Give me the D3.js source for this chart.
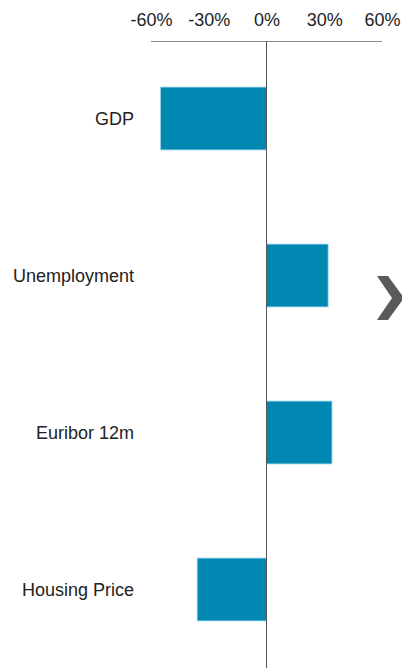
<!DOCTYPE html>
<html><head><meta charset="utf-8">
<script src="https://cdn.jsdelivr.net/npm/d3@7"></script>
<style>html,body{margin:0;padding:0;background:#fff;}svg{display:block;}</style>
</head><body>
<script>
const categories = ["GDP", "Unemployment", "Euribor 12m", "Housing Price"];
const values = [-55, 32, 34, -36];
const tickValues = [-60, -30, 0, 30, 60];
const tickLabels = ["-60%", "-30%", "0%", "30%", "60%"];

const W = 402, H = 668;
const svg = d3.select("body").append("svg").attr("width", W).attr("height", H);
const font = "'Liberation Sans', Arial, sans-serif";

const x = d3.scaleLinear().domain([-60, 60]).range([151, 382]);
const y = d3.scaleBand().domain(categories).range([40, 668]).paddingInner(0.6).paddingOuter(0.3);

// top axis baseline
svg.append("line").attr("x1", x(-60)).attr("x2", x(60)).attr("y1", 41.5).attr("y2", 41.5)
  .attr("stroke", "#8c8c8c").attr("stroke-width", 1);

const axis = d3.axisTop(x).tickValues(tickValues).tickSize(0).tickPadding(0)
  .tickFormat((d, i) => tickLabels[i]);
const ag = svg.append("g").attr("transform", "translate(0,26)").call(axis);
ag.select(".domain").remove();
ag.selectAll("text").attr("font-family", font).attr("font-size", 18).attr("fill", "#222").attr("dy", 0);

// bars
svg.append("g").selectAll("rect").data(categories).join("rect")
  .attr("x", (d, i) => Math.min(x(0), x(values[i])))
  .attr("width", (d, i) => Math.abs(x(values[i]) - x(0)))
  .attr("y", d => y(d))
  .attr("height", y.bandwidth())
  .attr("fill", "#0087b2")
  .attr("stroke", "#8fd0e6").attr("stroke-width", 0.8);

// zero line
svg.append("line").attr("x1", x(0)).attr("x2", x(0)).attr("y1", 41).attr("y2", H)
  .attr("stroke", "#555").attr("stroke-width", 1);

// category labels
svg.append("g").selectAll("text").data(categories).join("text")
  .attr("x", 134).attr("y", d => y(d) + y.bandwidth() / 2)
  .attr("dy", "0.35em").attr("text-anchor", "end")
  .attr("font-family", font).attr("font-size", 18).attr("fill", "#222")
  .text(d => d);

// chevron decoration
svg.append("path")
  .attr("d", "M377,276 L388,276 L404,298 L388,320 L377,320 L392,298 Z")
  .attr("fill", "#5a5a5a");
</script>
</body></html>
